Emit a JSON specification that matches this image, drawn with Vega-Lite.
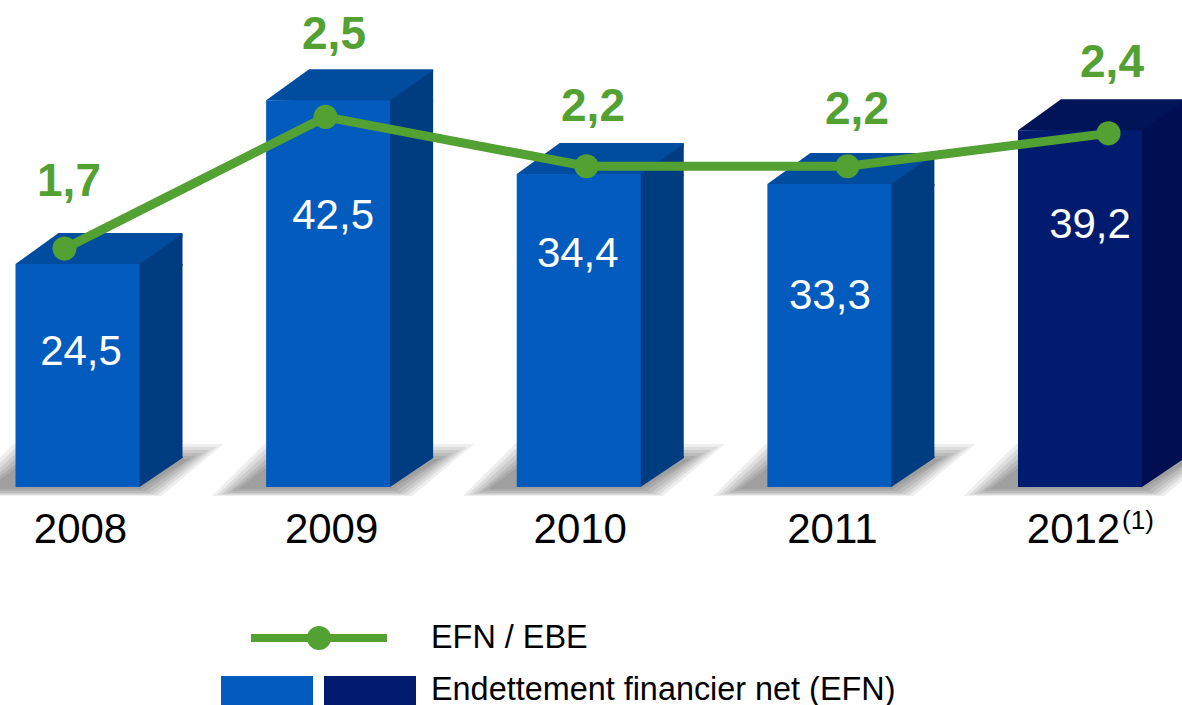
{
"$schema":"https://vega.github.io/schema/vega-lite/v6.json",
"width":1182,"height":705,"padding":0,"autosize":{"type":"none"},"background":"white",
"config":{"view":{"stroke":null},"font":"Liberation Sans"},
"data":{"values":[
{"annee":"2008","efn":24.5,"efn_txt":"24,5","ratio":1.7,"ratio_txt":"1,7","periode":"publie"},
{"annee":"2009","efn":42.5,"efn_txt":"42,5","ratio":2.5,"ratio_txt":"2,5","periode":"publie"},
{"annee":"2010","efn":34.4,"efn_txt":"34,4","ratio":2.2,"ratio_txt":"2,2","periode":"publie"},
{"annee":"2011","efn":33.3,"efn_txt":"33,3","ratio":2.2,"ratio_txt":"2,2","periode":"publie"},
{"annee":"2012","efn":39.2,"efn_txt":"39,2","ratio":2.4,"ratio_txt":"2,4","periode":"retraite"}
]},
"resolve":{"scale":{"x":"independent","y":"independent","color":"independent"},"axis":{"x":"independent","y":"independent"}},
"layer":[
{"mark":{"type":"point","filled":true,"size":4,"opacity":0.1,"stroke":null,"fill":"#555555","shape":"M-116,9 L-64,-43 L146,-43 L84,9 Z"},
 "encoding":{"x":{"field":"annee","type":"nominal","scale":{"type":"point","padding":0,"range":[77.5,1080]},"axis":null},"y":{"datum":0,"type":"quantitative","scale":{"domain":[0,53.52],"range":[487,0]},"axis":null}}},
{"mark":{"type":"point","filled":true,"size":4,"opacity":0.11,"stroke":null,"fill":"#555555","shape":"M-111,8 L-61,-40 L139,-40 L80,8 Z"},
 "encoding":{"x":{"field":"annee","type":"nominal","scale":{"type":"point","padding":0,"range":[77.5,1080]},"axis":null},"y":{"datum":0,"type":"quantitative","scale":{"domain":[0,53.52],"range":[487,0]},"axis":null}}},
{"mark":{"type":"point","filled":true,"size":4,"opacity":0.12,"stroke":null,"fill":"#555555","shape":"M-106,7 L-58,-37 L132,-37 L76,7 Z"},
 "encoding":{"x":{"field":"annee","type":"nominal","scale":{"type":"point","padding":0,"range":[77.5,1080]},"axis":null},"y":{"datum":0,"type":"quantitative","scale":{"domain":[0,53.52],"range":[487,0]},"axis":null}}},
{"mark":{"type":"point","filled":true,"size":4,"opacity":0.13,"stroke":null,"fill":"#555555","shape":"M-101,6 L-55,-34 L125,-34 L72,6 Z"},
 "encoding":{"x":{"field":"annee","type":"nominal","scale":{"type":"point","padding":0,"range":[77.5,1080]},"axis":null},"y":{"datum":0,"type":"quantitative","scale":{"domain":[0,53.52],"range":[487,0]},"axis":null}}},
{"mark":{"type":"point","filled":true,"size":4,"opacity":0.14,"stroke":null,"fill":"#555555","shape":"M-96,4 L-52,-31 L118,-31 L68,4 Z"},
 "encoding":{"x":{"field":"annee","type":"nominal","scale":{"type":"point","padding":0,"range":[77.5,1080]},"axis":null},"y":{"datum":0,"type":"quantitative","scale":{"domain":[0,53.52],"range":[487,0]},"axis":null}}},
{"mark":{"type":"point","filled":true,"size":4,"opacity":0.15,"stroke":null,"fill":"#555555","shape":"M-90,2 L-50,-28 L112,-28 L64,2 Z"},
 "encoding":{"x":{"field":"annee","type":"nominal","scale":{"type":"point","padding":0,"range":[77.5,1080]},"axis":null},"y":{"datum":0,"type":"quantitative","scale":{"domain":[0,53.52],"range":[487,0]},"axis":null}}},
{"mark":{"type":"point","filled":true,"size":4,"stroke":null,"shape":"M-62,0 L-19,-31 L105,-31 L105,-27 L62,3 Z","opacity":1},
 "encoding":{"x":{"field":"annee","type":"nominal","scale":{"type":"point","padding":0,"range":[77.5,1080]},"axis":null},
  "y":{"field":"efn","type":"quantitative","scale":{"domain":[0,53.52],"range":[487,0]},"axis":null},
  "color":{"field":"periode","type":"nominal","scale":{"domain":["publie","retraite"],"range":["#004C9E","#011458"]},"legend":null}}},
{"mark":{"type":"bar","width":45,"xOffset":82.5,"y2Offset":-29},
 "encoding":{"x":{"field":"annee","type":"nominal","scale":{"type":"point","padding":0,"range":[77.5,1080]},"axis":null},
  "y":{"field":"efn","type":"quantitative","scale":{"domain":[0,53.52],"range":[487,0]},"axis":null},"y2":{"datum":0},
  "color":{"field":"periode","type":"nominal","scale":{"domain":["publie","retraite"],"range":["#003D80","#010F52"]},"legend":null}}},
{"mark":{"type":"point","filled":true,"size":4,"stroke":null,"shape":"M60,1 L62,0 L105,-30 L105,2 L60,2 Z","opacity":1},
 "encoding":{"x":{"field":"annee","type":"nominal","scale":{"type":"point","padding":0,"range":[77.5,1080]},"axis":null},
  "y":{"field":"efn","type":"quantitative","scale":{"domain":[0,53.52],"range":[487,0]},"axis":null},
  "color":{"field":"periode","type":"nominal","scale":{"domain":["publie","retraite"],"range":["#003D80","#010F52"]},"legend":null}}},
{"mark":{"type":"point","filled":true,"size":4,"stroke":null,"shape":"M60,0 L62,0 L105,-29 L105,-31 L60,-31 Z","opacity":1},
 "encoding":{"x":{"field":"annee","type":"nominal","scale":{"type":"point","padding":0,"range":[77.5,1080]},"axis":null},
  "y":{"datum":0,"type":"quantitative","scale":{"domain":[0,53.52],"range":[487,0]},"axis":null},
  "color":{"field":"periode","type":"nominal","scale":{"domain":["publie","retraite"],"range":["#003D80","#010F52"]},"legend":null}}},
{"mark":{"type":"bar","width":124},
 "encoding":{"x":{"field":"annee","type":"nominal","title":null,"scale":{"type":"point","padding":0,"range":[77.5,1080]},
   "axis":{"orient":"bottom","offset":-200,"domain":false,"ticks":false,"grid":false,"labelAngle":0,"labelFontSize":42,"labelColor":"#000000","labelPadding":4,"labelFont":"Liberation Sans","title":null,
    "labelOffset":{"condition":[{"test":"datum.value=='2012'","value":-7},{"test":"datum.value=='2009'","value":3},{"test":"datum.value=='2010'","value":1}],"value":2.5}}},
  "y":{"field":"efn","type":"quantitative","scale":{"domain":[0,53.52],"range":[487,0]},"axis":null},"y2":{"datum":0},
  "color":{"field":"periode","type":"nominal","scale":{"domain":["publie","retraite"],"range":["#025BBD","#011C6E"]},"legend":null}}},
{"mark":{"type":"text","fontSize":42,"color":"#ffffff","baseline":"middle","dx":{"expr":"{'2008':3.5,'2009':5,'2010':-1,'2011':0.5,'2012':10}[datum.annee]"},"dy":{"expr":"{'2008':88,'2009':116,'2010':80,'2011':112,'2012':95}[datum.annee]"}},
 "encoding":{"x":{"field":"annee","type":"nominal","scale":{"type":"point","padding":0,"range":[77.5,1080]},"axis":null},
  "y":{"field":"efn","type":"quantitative","scale":{"domain":[0,53.52],"range":[487,0]},"axis":null},
  "text":{"field":"efn_txt"}}},
{"mark":{"type":"text","fontSize":26,"color":"#000000","baseline":"middle","dx":58,"dy":34},
 "transform":[{"filter":"datum.annee=='2012'"},{"calculate":"'(1)'","as":"renvoi"}],
 "encoding":{"x":{"field":"annee","type":"nominal","scale":{"type":"point","padding":0,"domain":["2008","2009","2010","2011","2012"],"range":[77.5,1080]},"axis":null},
  "y":{"datum":0,"type":"quantitative","scale":{"domain":[0,53.52],"range":[487,0]},"axis":null},
  "text":{"field":"renvoi"}}},
{"mark":{"type":"line","color":"#53A033","strokeWidth":9},
 "encoding":{"x":{"field":"annee","type":"nominal","scale":{"type":"point","padding":0,"range":[64.5,1108.5]},"axis":null},
  "y":{"field":"ratio","type":"quantitative","scale":{"domain":[0,3.21],"range":[528.5,0]},"axis":null}}},
{"mark":{"type":"point","filled":true,"color":"#53A033","size":580,"opacity":1},
 "encoding":{"x":{"field":"annee","type":"nominal","scale":{"type":"point","padding":0,"range":[64.5,1108.5]},"axis":null},
  "y":{"field":"ratio","type":"quantitative","scale":{"domain":[0,3.21],"range":[528.5,0]},"axis":null}}},
{"mark":{"type":"text","fontSize":46,"fontWeight":"bold","color":"#53A033","baseline":"middle","dx":{"expr":"{'2008':4.5,'2009':8.5,'2010':6.5,'2011':9.5,'2012':3.5}[datum.annee]"},"dy":{"expr":"{'2008':-67,'2009':-82,'2010':-59,'2011':-56,'2012':-70}[datum.annee]"}},
 "encoding":{"x":{"field":"annee","type":"nominal","scale":{"type":"point","padding":0,"range":[64.5,1108.5]},"axis":null},
  "y":{"field":"ratio","type":"quantitative","scale":{"domain":[0,3.21],"range":[528.5,0]},"axis":null},
  "text":{"field":"ratio_txt"}}},
{"data":{"values":[{"legende":"EFN / EBE","repere":"debut"},{"legende":"EFN / EBE","repere":"milieu"},{"legende":"EFN / EBE","repere":"fin"}]},
 "mark":{"type":"line","color":"#53A033","strokeWidth":8},
 "encoding":{"x":{"field":"repere","type":"nominal","sort":null,"scale":{"type":"point","padding":0,"domain":["debut","milieu","fin"],"range":[251,387]},"axis":null},
  "y":{"field":"legende","type":"nominal","scale":{"type":"point","padding":0,"domain":["EFN / EBE","Endettement financier net (EFN)"],"range":[638,690.5]},"axis":null}}},
{"data":{"values":[{"legende":"EFN / EBE","repere":"milieu"}]},
 "mark":{"type":"point","filled":true,"color":"#53A033","size":580,"opacity":1},
 "encoding":{"x":{"field":"repere","type":"nominal","scale":{"type":"point","padding":0,"domain":["debut","milieu","fin"],"range":[251,387]},"axis":null},
  "y":{"field":"legende","type":"nominal","scale":{"type":"point","padding":0,"domain":["EFN / EBE","Endettement financier net (EFN)"],"range":[638,690.5]},"axis":null}}},
{"data":{"values":[{"legende":"Endettement financier net (EFN)","periode":"publie"},{"legende":"Endettement financier net (EFN)","periode":"retraite"}]},
 "mark":{"type":"bar","width":92,"height":29},
 "encoding":{"x":{"field":"periode","type":"nominal","scale":{"type":"point","padding":0,"domain":["publie","retraite"],"range":[267,370]},"axis":null},
  "y":{"field":"legende","type":"nominal","scale":{"type":"point","padding":0,"domain":["EFN / EBE","Endettement financier net (EFN)"],"range":[638,690.5]},"axis":null},
  "color":{"field":"periode","type":"nominal","scale":{"domain":["publie","retraite"],"range":["#025BBD","#011C6E"]},"legend":null}}},
{"data":{"values":[{"legende":"EFN / EBE"},{"legende":"Endettement financier net (EFN)"}]},
 "mark":{"type":"text","fontSize":32.4,"color":"#000000","align":"left","baseline":"middle"},
 "encoding":{"x":{"field":"legende","type":"nominal","scale":{"type":"point","padding":0,"domain":["EFN / EBE","Endettement financier net (EFN)"],"range":[431,431]},"axis":null},
  "y":{"field":"legende","type":"nominal","scale":{"type":"point","padding":0,"domain":["EFN / EBE","Endettement financier net (EFN)"],"range":[638,689.5]},"axis":null},
  "text":{"field":"legende"}}}
]
}
